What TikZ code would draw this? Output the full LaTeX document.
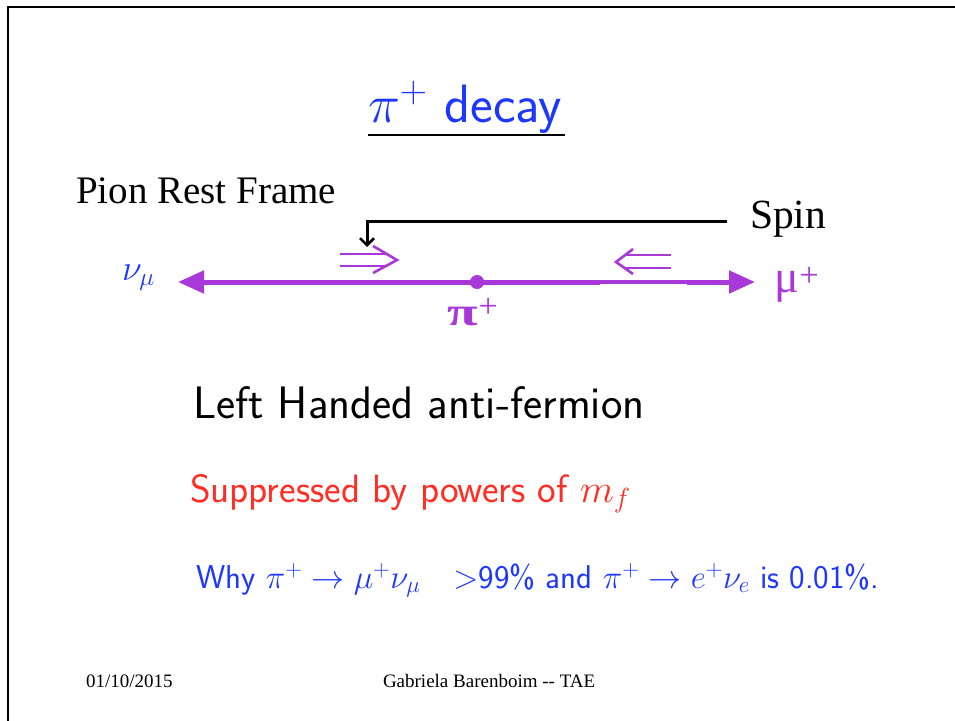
\RequirePackage{fix-cm}
\documentclass[tikz,border=0pt]{standalone}
\usepackage{fontspec}
\usepackage{graphicx}
\usetikzlibrary{arrows.meta}
\newfontfamily\timesf{Liberation Serif}
\definecolor{tblue}{RGB}{30,55,255}
\definecolor{tpurple}{RGB}{168,56,216}
\definecolor{tred}{RGB}{255,45,35}
\tikzset{
  txt/.style={anchor=base west, inner sep=0pt, outer sep=0pt},
  axis/.style={tpurple, line width=5pt},
  dblbar/.style={tpurple, line width=2.6pt, line cap=butt},
}
\newcommand{\fs}[1]{\fontsize{#1}{#1}\selectfont}
\begin{document}
\begin{tikzpicture}[x=1pt,y=-1pt]
\useasboundingbox (0,0) rectangle (955,720);
\fill[white] (0,0) rectangle (955,720);
% frame
\draw[line width=2.5pt] (8,722) -- (8,7) -- (957,7);
% title
\node[txt, tblue] (title) at (368,122) {\sffamily\fs{54}$\pi^+$ decay};
\draw[line width=2.2pt] (368,135) -- (565,135);
% pion rest frame
\node[txt] (prf) at (76,203) {\timesf\fs{39}Pion Rest Frame};
\node[txt] (spin) at (750,228) {\timesf\fs{41.5}Spin};
\coordinate (sp0) at (727,221);
\coordinate (sp1) at (367,221);
\coordinate (sp2) at (367,247);
\draw[line width=3pt, -{Straight Barb[length=7pt,width=14pt,line width=2.5pt]}] (sp0) -- (sp1) -- (sp2);
% axis
\node[circle, fill=tpurple, inner sep=0pt, minimum size=14pt] (pi) at (477,282) {};
\coordinate (lt) at (178,282);
\coordinate (rt) at (755,282);
\coordinate (g1) at (600,282);
\coordinate (g2) at (687,282);
\draw[axis, -{Triangle[length=26pt,width=22pt]}] (pi.center) -- (lt);
\draw[axis] (pi.center) -- (g1);
\draw[tpurple, line width=3.5pt] (g1) -- (g2);
\draw[axis, -{Triangle[length=26pt,width=22pt]}] (g2) -- (rt);
% labels
\node[txt, tblue] (nu) at (122,280) {\fs{36}$\nu_\mu$};
\node[txt, tpurple] (mu) at (774,292) {\timesf\fs{46}μ\kern1pt\raisebox{6pt}{\fs{34}+}};
\node[txt, tpurple] (pilab) at (447,325) {\timesf\bfseries\fs{40}\scalebox{1.4}[1]{π}\kern1pt\raisebox{8pt}{\fs{34}\mdseries+}};
% double arrows
\coordinate (ra1) at (340,254);
\coordinate (ra2) at (388,254);
\coordinate (ra3) at (340,266);
\coordinate (ra4) at (388,266);
\draw[dblbar] (ra1) -- (ra2);
\draw[dblbar] (ra3) -- (ra4);
\coordinate (rc1) at (373,246);
\coordinate (rc2) at (397,260);
\coordinate (rc3) at (373,273);
\draw[tpurple, line width=2.6pt, line join=miter] (rc1) -- (rc2) -- (rc3);
\coordinate (la1) at (671,255);
\coordinate (la2) at (624,255);
\coordinate (la3) at (671,268);
\coordinate (la4) at (624,268);
\draw[dblbar] (la1) -- (la2);
\draw[dblbar] (la3) -- (la4);
\coordinate (lc1) at (633,249);
\coordinate (lc2) at (616,262);
\coordinate (lc3) at (633,274);
\draw[tpurple, line width=2.6pt, line join=miter] (lc1) -- (lc2) -- (lc3);
% texts
\node[txt] (lh) at (193,418) {\sffamily\fs{45.5}Left Handed anti-fermion};
\node[txt, tred] (sup) at (190,502) {\sffamily\fs{39.5}Suppressed by powers of $m_f$};
\node[txt, tblue] (why) at (196,588) {\sffamily\fs{33}Why $\pi^+\to\mu^+\nu_\mu\quad{>}$99\% and $\pi^+\to e^+\nu_e$ is 0.01\%.};
% footer
\node[txt] (date) at (86,687) {\timesf\fs{19}01/10/2015};
\node[txt] (auth) at (383,687) {\timesf\fs{19}Gabriela Barenboim -{}- TAE};
\end{tikzpicture}
\end{document}
